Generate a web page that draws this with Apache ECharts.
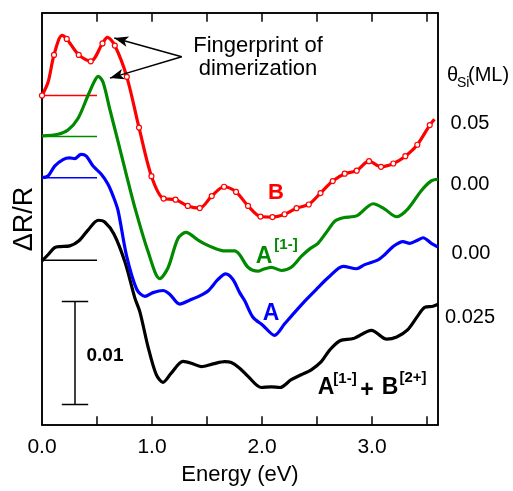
<!DOCTYPE html>
<html><head><meta charset="utf-8">
<script src="https://cdn.jsdelivr.net/npm/echarts@6/dist/echarts.min.js"></script>
<style>html,body{margin:0;padding:0;background:#fff}#c{width:513px;height:491px}</style>
</head><body><div id="c"></div>
<script>
const FONT = 'Liberation Sans, Arial, Helvetica, sans-serif';

// x axis (Energy, eV)
const xMin = 0, xMax = 3.6, xStep = 0.5;
const xTicks = [0.5, 1.0, 1.5, 2.0, 2.5, 3.0, 3.5];
// y axis: ΔR/R in units of 1e-3, curves vertically offset
const yMin = 0, yMax = 40;
const baselines = [32, 28, 24, 16];      // red, green, blue, black zero lines
const baselineSpan = [0, 0.5];

// B (red, with markers; 1 = marker drawn)
const redE = [0.000,0.055,0.109,0.182,0.225,0.334,0.443,0.550,0.594,0.662,0.771,0.882,0.995,1.105,1.214,1.325,1.434,1.543,1.655,1.764,1.873,1.986,2.095,2.205,2.314,2.425,2.532,2.643,2.752,2.861,2.973,3.082,3.194,3.303,3.412,3.525,3.568];
const redV = [31.99,33.27,35.93,37.83,37.48,35.93,35.31,37.05,37.64,36.84,33.80,28.88,24.16,21.98,21.88,21.27,21.06,22.23,23.13,22.63,21.27,20.24,20.19,20.46,21.05,21.41,22.52,23.68,24.40,24.69,25.61,25.07,25.39,26.10,27.21,29.12,29.69];
const redMark = [1,0,1,0,1,1,1,1,0,1,1,1,1,1,1,1,1,1,1,1,1,1,1,1,1,1,1,1,1,1,1,1,1,1,1,1,0];

// A[1-] (green)
const greenE = [0,0.145,0.236,0.327,0.418,0.479,0.512,0.555,0.615,0.691,0.766,0.843,0.964,1.071,1.145,1.236,1.309,1.418,1.479,1.570,1.661,1.752,1.797,1.873,1.964,2.012,2.085,2.177,2.266,2.357,2.434,2.509,2.600,2.664,2.739,2.864,3.011,3.115,3.223,3.327,3.448,3.539,3.600];
const greenV = [28.07,28.23,28.64,29.76,31.99,33.43,33.85,33.27,30.72,27.53,24.33,21.15,16.84,14.21,15.24,18.11,18.71,17.96,17.58,17.16,16.91,16.91,16.53,15.31,14.93,15.12,15.31,15.00,15.31,16.36,17.10,17.64,18.92,19.81,20.12,20.33,21.48,20.96,20.22,20.99,22.75,23.70,23.86];

// A (blue)
const blueE = [0,0.055,0.115,0.191,0.25,0.297,0.355,0.403,0.464,0.539,0.6,0.645,0.691,0.77,0.861,0.936,1.009,1.1,1.161,1.252,1.343,1.434,1.509,1.6,1.67,1.736,1.797,1.843,1.918,2.009,2.114,2.206,2.297,2.4,2.509,2.6,2.739,2.859,2.934,3.055,3.115,3.191,3.282,3.343,3.418,3.464,3.539,3.6];
const blueV = [24.03,24.18,25.14,25.77,25.93,25.87,26.27,26.10,25.14,24.34,23.38,22.27,20.83,16.36,13.18,12.49,12.85,13.06,12.70,11.74,12.12,12.54,13.01,14.13,14.67,14.13,12.85,12.06,10.46,9.67,8.71,9.83,10.94,12.15,13.33,14.29,15.41,15.17,15.57,16.03,16.53,17.32,17.80,17.64,17.96,18.18,17.64,17.27];

// A[1-] + B[2+] (black)
const blackE = [0,0.055,0.115,0.164,0.252,0.336,0.418,0.511,0.57,0.655,0.755,0.843,0.891,0.964,1.039,1.1,1.175,1.282,1.357,1.448,1.555,1.661,1.721,1.797,1.873,1.994,2.085,2.164,2.266,2.357,2.448,2.539,2.615,2.709,2.83,2.995,3.134,3.225,3.323,3.418,3.479,3.555,3.6];
const blackV = [15.93,16.53,17.22,17.32,17.39,17.89,18.92,19.88,19.71,18.52,15.79,12.37,10.94,7.59,4.88,4.14,5.04,6.17,6.00,5.67,5.93,6.15,6.06,5.52,4.72,3.64,3.70,3.64,4.40,4.88,5.36,6.15,7.27,8.18,8.39,9.19,8.33,8.55,9.23,10.62,11.42,11.53,11.72];

// scale bar (0.01 = 10 units)
const scaleX = [0.18, 0.30, 0.42];
const scaleY = [2, 12];

// arrows "Fingerprint of dimerization"
const arrowFrom = [1.27, 35.76];
const arrowTo = [[0.657, 37.58], [0.618, 33.68]];

const colors = ['#ff0000', '#008a00', '#0000ff', '#000000'];

function zip(e, v) { return e.map((x, i) => [x, v[i]]); }

const chart = echarts.init(document.getElementById('c'), null, {renderer: 'canvas'});
const gridTop = 13, gridBottom = 60;
const plotH = 491 - gridTop - gridBottom;
const tickLen = 9 * (yMax - yMin) / plotH;   // 9 px expressed in y units

const series = [];
baselines.forEach((b, i) => {
  series.push({type: 'line', data: baselineSpan.map(x => [x, b]), symbol: 'none',
    lineStyle: {color: colors[i], width: 1.5}, z: 2, silent: true});
});
const curveCommon = {type: 'line', smooth: 0.3, symbol: 'none', z: 3, silent: true};
series.push(Object.assign({}, curveCommon, {data: zip(blackE, blackV), lineStyle: {color: colors[3], width: 3.2}}));
series.push(Object.assign({}, curveCommon, {data: zip(blueE, blueV), lineStyle: {color: colors[2], width: 3.2}}));
series.push(Object.assign({}, curveCommon, {data: zip(greenE, greenV), lineStyle: {color: colors[1], width: 3.2}}));
series.push(Object.assign({}, curveCommon, {
  data: redE.map((x, i) => redMark[i] ? {value: [x, redV[i]]} : {value: [x, redV[i]], symbol: 'none'}),
  symbol: 'circle', symbolSize: 5, showSymbol: true, showAllSymbol: true, z: 4,
  itemStyle: {color: '#ffffff', borderColor: colors[0], borderWidth: 1.2},
  lineStyle: {color: colors[0], width: 3.2},
  markLine: {
    silent: true, symbol: ['none', 'arrow'], symbolSize: [8, 14], animation: false,
    lineStyle: {color: '#000', width: 1.5, type: 'solid'}, label: {show: false},
    data: arrowTo.map(t => [{coord: arrowFrom}, {coord: t}])
  }
}));
// scale bar
series.push({type: 'line', data: [[scaleX[1], scaleY[0]], [scaleX[1], scaleY[1]]], symbol: 'none', lineStyle: {color: '#000', width: 1.5}, silent: true});
scaleY.forEach(y => series.push({type: 'line', data: [[scaleX[0], y], [scaleX[2], y]], symbol: 'none', lineStyle: {color: '#000', width: 1.5}, silent: true}));
// inward ticks on bottom and top of the frame
xTicks.forEach(v => {
  series.push({type: 'line', data: [[v, yMin], [v, yMin + tickLen]], symbol: 'none', z: 6, silent: true, clip: false, lineStyle: {color: '#000', width: 1.5}});
  series.push({type: 'line', data: [[v, yMax], [v, yMax - tickLen]], symbol: 'none', z: 6, silent: true, clip: false, lineStyle: {color: '#000', width: 1.5}});
});

function txt(text, x, y, size, opts) {
  return {type: 'text', x: x, y: y, z: 100, style: Object.assign({
    text: text, fontSize: size, fontFamily: FONT, fill: '#000',
    textAlign: 'center', textVerticalAlign: 'middle'}, opts || {})};
}
const B = {fontWeight: 'bold'};
const lineStyleAx = () => ({show: true, onZero: false, lineStyle: {color: '#000', width: 1.5}});

chart.setOption({
  animation: false,
  backgroundColor: '#fff',
  grid: {left: 42, right: 75, top: gridTop, bottom: gridBottom, show: true, borderColor: '#000', borderWidth: 1.5},
  xAxis: [{
    type: 'value', min: xMin, max: xMax, interval: xStep, position: 'bottom',
    name: 'Energy (eV)', nameLocation: 'middle', nameGap: 39,
    nameTextStyle: {fontSize: 22, fontFamily: FONT, color: '#000'},
    axisLine: lineStyleAx(), splitLine: {show: false},
    axisTick: {show: false},
    axisLabel: {show: true, fontSize: 21, fontFamily: FONT, color: '#000', margin: 12, showMaxLabel: false,
      formatter: v => Math.abs(v - Math.round(v)) < 1e-6 ? v.toFixed(1) : ''}
  }, {
    type: 'value', min: xMin, max: xMax, interval: xStep, position: 'top',
    axisLine: lineStyleAx(), splitLine: {show: false}, axisLabel: {show: false},
    axisTick: {show: false}
  }],
  yAxis: [{
    type: 'value', min: yMin, max: yMax, name: 'ΔR/R', nameLocation: 'middle', nameRotate: 90, nameGap: 4,
    nameTextStyle: {fontSize: 27, fontFamily: FONT, color: '#000'}, position: 'left',
    axisLine: lineStyleAx(), axisTick: {show: false}, axisLabel: {show: false}, splitLine: {show: false}
  }, {
    type: 'value', min: yMin, max: yMax, position: 'right',
    axisLine: lineStyleAx(), axisTick: {show: false}, axisLabel: {show: false}, splitLine: {show: false}
  }],
  series: series,
  graphic: [
    txt('Fingerprint of\ndimerization', 258, 57, 22, {lineHeight: 23}),
    txt('0.01', 105, 356, 19, B),
    txt('B', 276, 193, 22, Object.assign({fill: colors[0]}, B)),
    txt('A', 264, 257, 23, Object.assign({fill: colors[1]}, B)),
    txt('[1-]', 286, 245, 15, Object.assign({fill: colors[1]}, B)),
    txt('A', 271, 314, 23, Object.assign({fill: colors[2]}, B)),
    txt('A', 326, 388, 23, B),
    txt('[1-]', 345, 379, 15, B),
    txt('+', 367, 391, 23, B),
    txt('B', 390, 388, 23, B),
    txt('[2+]', 413, 378, 15, B),
    txt('θ', 447, 75, 20, {textAlign: 'left'}),
    txt('Si', 457, 83, 14, {textAlign: 'left'}),
    txt('(ML)', 468, 75, 20, {textAlign: 'left'}),
    txt('0.05', 470, 123, 20),
    txt('0.00', 470, 184, 20),
    txt('0.00', 471, 253, 20),
    txt('0.025', 470, 317, 20)
  ]
});
</script></body></html>
